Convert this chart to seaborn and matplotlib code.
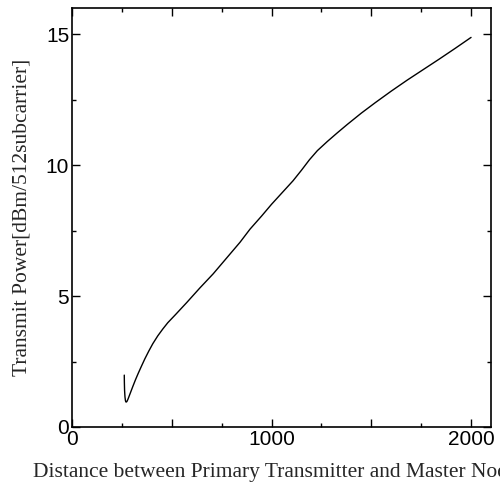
import numpy as np
import pandas as pd
import matplotlib
matplotlib.use('Agg')
import matplotlib.pyplot as plt
import seaborn as sns
from matplotlib.ticker import MultipleLocator

# Dados
distancia = [262, 262.5, 263.5, 265.5, 268, 271, 275, 280, 286, 295, 305, 318,
             332, 348, 365, 385, 405, 430, 455, 480, 520, 575, 640, 708,
             775, 842, 892, 950, 1000, 1060, 1108, 1150, 1190, 1230, 1280,
             1330, 1380, 1450, 1520, 1600, 1680, 1760, 1840, 1920, 2000]
potencia = [1.98, 1.7, 1.4, 1.15, 1.0, 0.95, 0.97, 1.05, 1.17, 1.35, 1.55, 1.8,
            2.05, 2.32, 2.6, 2.9, 3.18, 3.48, 3.74, 3.98, 4.3, 4.75, 5.3, 5.85,
            6.45, 7.05, 7.55, 8.05, 8.5, 9.0, 9.4, 9.8, 10.2, 10.55, 10.9,
            11.23, 11.55, 11.98, 12.38, 12.82, 13.24, 13.64, 14.04, 14.45, 14.87]

df = pd.DataFrame({'dist': distancia, 'pot': potencia})

sns.set_style('ticks')
plt.rcParams['font.family'] = ['Liberation Sans', 'DejaVu Sans']
plt.rcParams['xtick.direction'] = 'in'
plt.rcParams['ytick.direction'] = 'in'

fig = plt.figure(figsize=(5.0, 4.88), dpi=100)
ax = fig.add_axes([0.144, 0.125, 0.838, 0.859])

sns.lineplot(data=df, x='dist', y='pot', sort=False, color='black',
             linewidth=1.0, ax=ax)

ax.set_xlim(0, 2100)
ax.set_ylim(0, 16)
ax.xaxis.set_major_locator(MultipleLocator(500))
ax.xaxis.set_minor_locator(MultipleLocator(250))
ax.yaxis.set_major_locator(MultipleLocator(5))
ax.yaxis.set_minor_locator(MultipleLocator(2.5))
ax.set_xticklabels(['' if t % 1000 else f'{int(t)}' for t in ax.get_xticks()])
ax.tick_params(which='both', top=True, right=True, labelsize=15, colors='black')
ax.tick_params(which='major', length=6, width=1)
ax.tick_params(which='minor', length=3, width=1)
ax.tick_params(axis='x', pad=2)
ax.tick_params(axis='y', pad=2)
for s in ax.spines.values():
    s.set_linewidth(1.2)
    s.set_color('black')

# o rótulo do eixo x fica cortado na borda direita, como no original
ax.set_xlabel('Distance between Primary Transmitter and Master Node',
              family='Liberation Serif', fontsize=15.5, labelpad=10)
ax.xaxis.label.set_x(0.4845)
ax.set_ylabel('Transmit Power[dBm/512subcarrier]',
              family='Liberation Serif', fontsize=15.5, labelpad=10)

plt.savefig('out.png', dpi=100)
